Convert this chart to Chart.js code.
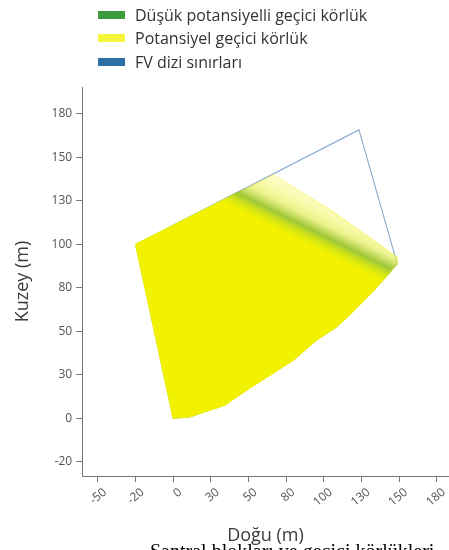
<!DOCTYPE html>
<html><head><meta charset="utf-8">
<script src="https://cdn.jsdelivr.net/npm/chart.js@4.4.1/dist/chart.umd.min.js"></script>
<style>
html,body{margin:0;padding:0;background:#fff;overflow:hidden;}
#wrap{position:relative;width:449px;height:550px;overflow:hidden;background:#fff;}
#c{position:absolute;left:0;top:0;}
#legend{position:absolute;left:98px;top:3px;font-family:'Open Sans',Arial,sans-serif;font-size:16px;color:#333;}
.li{display:flex;align-items:center;height:23.5px;white-space:nowrap;}
.sw{width:27px;height:8px;margin-right:10px;flex:none;}
#caption{position:absolute;left:150px;top:540px;font-family:'Liberation Serif','Times New Roman',serif;font-size:20px;color:#000;white-space:nowrap;}
</style></head>
<body><div id="wrap"><canvas id="c" width="449" height="550"></canvas><div id="legend"></div><div id="caption">Santral blokları ve geçici körlükleri</div></div>
<script>
// Tick labels (the axes step unevenly: each label sits one equal step apart)
const xTickLabels = [-50, -20, 0, 30, 50, 80, 100, 130, 150, 180];
const yTickLabels = [-20, 0, 30, 50, 80, 100, 130, 150, 180];

// Series names
const seriesNames = ['Düşük potansiyelli geçici körlük', 'Potansiyel geçici körlük', 'FV dizi sınırları'];

// Potential temporary blindness area (Doğu, Kuzey in m)
const yellowX = [-20, 0, 13, 37, 51, 70, 84, 96, 110, 121, 137, 149, 149, 105, 70, -20];
const yellowY = [100, 0, 1, 9, 21, 31, 37, 46, 53, 62, 79, 91, 94, 124, 142, 100];

// Low-potential temporary blindness band
const greenX = [34, 70, 105, 149, 149, 140, 34];
const greenY = [130, 142, 124, 94, 91, 82, 130];

// PV array boundary
const boundaryX = [-20, 0, 13, 37, 51, 70, 84, 96, 110, 121, 137, 149, 128, -20];
const boundaryY = [100, 0, 1, 9, 21, 31, 37, 46, 53, 62, 79, 91, 169, 100];

// map a value in m onto the evenly stepped axis
function toAxis(v, labels) {
  let k = 0;
  while (k < labels.length - 2 && v > labels[k + 1]) k++;
  return k + (v - labels[k]) / (labels[k + 1] - labels[k]);
}
function pts(xs, ys) {
  return xs.map((x, i) => ({ x: toAxis(x, xTickLabels), y: toAxis(ys[i], yTickLabels) }));
}

// gradient direction across the band (in m); band centre at 0.5
const gradFrom = [73, 88.6], gradTo = [99, 140];
const yellowStops = [[0, 'rgba(242,242,0,1)'], [0.38, 'rgba(242,242,0,1)'], [0.46, 'rgba(232,238,20,1)'],
  [0.54, 'rgba(238,241,50,0.62)'], [0.58, 'rgba(240,242,55,0.55)'], [0.7, 'rgba(242,244,65,0.45)'],
  [0.8, 'rgba(245,245,85,0.35)'], [1, 'rgba(248,248,120,0.22)']];
const greenStops = [[0, 'rgba(165,208,40,0)'], [0.36, 'rgba(165,208,40,0)'], [0.44, 'rgba(160,205,42,0.4)'],
  [0.5, 'rgba(128,182,46,0.72)'], [0.54, 'rgba(138,188,52,0.55)'], [0.62, 'rgba(185,215,90,0.16)'],
  [0.7, 'rgba(200,220,100,0)'], [1, 'rgba(200,220,100,0)']];

function makeGradient(chart, stops) {
  const { ctx, chartArea, scales } = chart;
  if (!chartArea || !scales.x) return 'rgba(0,0,0,0)';
  const x0 = scales.x.getPixelForValue(toAxis(gradFrom[0], xTickLabels));
  const y0 = scales.y.getPixelForValue(toAxis(gradFrom[1], yTickLabels));
  const x1 = scales.x.getPixelForValue(toAxis(gradTo[0], xTickLabels));
  const y1 = scales.y.getPixelForValue(toAxis(gradTo[1], yTickLabels));
  const g = ctx.createLinearGradient(x0, y0, x1, y1);
  stops.forEach(s => g.addColorStop(s[0], s[1]));
  return g;
}

const legendColors = ['#3d9a3d', '#f4f43a', '#2f6fa7'];
const tickFont = { family: "'Open Sans', Arial, sans-serif", size: 12 };
const titleFont = { family: "'Open Sans', Arial, sans-serif", size: 18 };

const chart = new Chart(document.getElementById('c'), {
  type: 'line',
  data: {
    datasets: [
      { label: seriesNames[0], data: pts(greenX, greenY), order: 1, fill: 'shape', borderWidth: 0,
        backgroundColor: c => makeGradient(c.chart, greenStops), pointRadius: 0, tension: 0 },
      { label: seriesNames[1], data: pts(yellowX, yellowY), order: 2, fill: 'shape', borderWidth: 1.5,
        borderColor: c => makeGradient(c.chart, yellowStops),
        backgroundColor: c => makeGradient(c.chart, yellowStops), pointRadius: 0, tension: 0 },
      { label: seriesNames[2], data: pts(boundaryX, boundaryY), order: 3, fill: false, borderWidth: 1.1,
        borderColor: '#8cabd0', pointRadius: 0, tension: 0 }
    ]
  },
  options: {
    responsive: false,
    animation: false,
    events: [],
    layout: { padding: { top: 87, left: 7, right: 0, bottom: 3 } },
    plugins: { legend: { display: false }, tooltip: { enabled: false } },
    scales: {
      x: {
        type: 'linear', min: -0.42, max: 9.32,
        afterBuildTicks: s => { s.ticks = xTickLabels.map((_, i) => ({ value: i })); },
        ticks: { callback: v => xTickLabels[v], minRotation: 40, maxRotation: 40, color: '#555', font: tickFont, labelOffset: 7, padding: 3 },
        grid: { drawOnChartArea: false, drawTicks: true, tickLength: 6, color: '#777' },
        border: { display: true, color: '#777', width: 1 },
        title: { display: true, text: 'Doğu (m)', color: '#3a3a3a', font: titleFont, padding: { top: 13, bottom: 0 } }
      },
      y: {
        type: 'linear', min: -0.33, max: 8.62,
        afterBuildTicks: s => { s.ticks = yTickLabels.map((_, i) => ({ value: i })); },
        ticks: { callback: v => yTickLabels[v], color: '#555', font: tickFont, padding: 4 },
        grid: { drawOnChartArea: false, drawTicks: true, tickLength: 6, color: '#777' },
        border: { display: true, color: '#777', width: 1 },
        title: { display: true, text: 'Kuzey (m)', color: '#3a3a3a', font: titleFont, padding: { top: 5, bottom: 14 } }
      }
    }
  }
});

// legend built from the chart's datasets
const leg = document.getElementById('legend');
chart.data.datasets.forEach((d, i) => {
  const row = document.createElement('div'); row.className = 'li';
  const sw = document.createElement('span'); sw.className = 'sw'; sw.style.background = legendColors[i];
  const tx = document.createElement('span'); tx.textContent = d.label;
  row.appendChild(sw); row.appendChild(tx); leg.appendChild(row);
});
</script>
</body></html>
